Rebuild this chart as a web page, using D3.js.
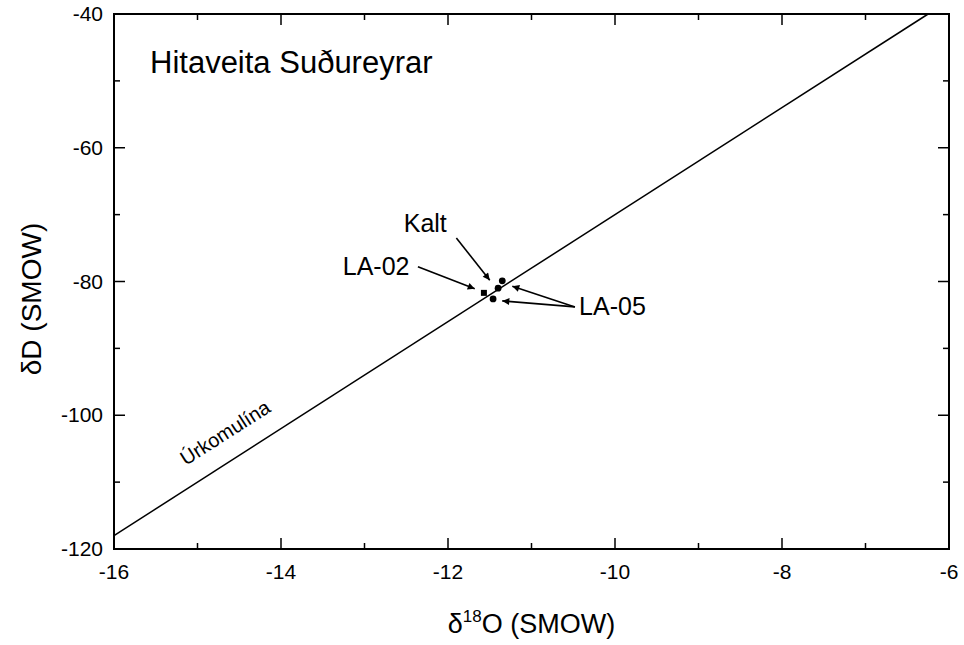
<!DOCTYPE html>
<html><head><meta charset="utf-8">
<script src="https://cdn.jsdelivr.net/npm/d3@7"></script>
<style>body{margin:0;background:#fff}svg{display:block}text{font-family:"Liberation Sans",Arial,sans-serif;fill:#000}</style>
</head><body><svg id="c" width="964" height="645"></svg>
<script>
const xDomain = [-16, -6];
const yDomain = [-120, -40];
const xMajor = [-16, -14, -12, -10, -8, -6];
const xMinor = [-15, -13, -11, -9, -7];
const yMajor = [-120, -100, -80, -60, -40];
const yMinor = [-110, -90, -70, -50];
const lineX = [-16, -6.25];           // meteoric water line dD = 8*d18O + 10
const lineSlope = 8, lineIntercept = 10;
const squarePts = [{x: -11.57, y: -81.7}];
const dotPts = [{x: -11.35, y: -79.9}, {x: -11.40, y: -81.0}, {x: -11.46, y: -82.6}];
const labels = [
  {t: "Kalt", x: -12.53, y: -72.6},
  {t: "LA-02", x: -13.26, y: -79.0},
  {t: "LA-05", x: -10.43, y: -85.0}
];
const arrows = [
  {x1: -11.90, y1: -73.5, x2: -11.50, y2: -79.8},
  {x1: -12.36, y1: -77.8, x2: -11.68, y2: -81.1},
  {x1: -10.48, y1: -83.8, x2: -11.23, y2: -80.7},
  {x1: -10.48, y1: -83.8, x2: -11.35, y2: -82.9}
];

const svg = d3.select("#c");
const L = 114, R = 949, T = 14, B = 549;
const x = d3.scaleLinear().domain(xDomain).range([L, R]);
const y = d3.scaleLinear().domain(yDomain).range([B, T]);

svg.append("defs").append("marker").attr("id","ah").attr("viewBox","0 0 10 10")
  .attr("refX",10).attr("refY",5).attr("markerWidth",13).attr("markerHeight",7)
  .attr("markerUnits","userSpaceOnUse").attr("orient","auto")
  .append("path").attr("d","M0,0L10,5L0,10z").attr("fill","#000");

// frame
svg.append("rect").attr("x",L).attr("y",T).attr("width",R-L).attr("height",B-T)
  .attr("fill","none").attr("stroke","#000").attr("stroke-width",2);

const g = svg.append("g").attr("stroke","#000").attr("stroke-width",1.5);
function ticks(vals, len){
  vals.forEach(v=>{
    g.append("line").attr("x1",x(v)).attr("x2",x(v)).attr("y1",B).attr("y2",B-len);
    g.append("line").attr("x1",x(v)).attr("x2",x(v)).attr("y1",T).attr("y2",T+len);
  });
}
function yticks(vals, len){
  vals.forEach(v=>{
    g.append("line").attr("y1",y(v)).attr("y2",y(v)).attr("x1",L).attr("x2",L+len);
    g.append("line").attr("y1",y(v)).attr("y2",y(v)).attr("x1",R).attr("x2",R-len);
  });
}
ticks(xMajor, 11); ticks(xMinor, 6); yticks(yMajor, 11); yticks(yMinor, 6);

// tick labels
svg.append("g").selectAll("text").data(xMajor).join("text")
  .attr("x",d=>x(d)).attr("y",B+30).attr("text-anchor","middle").attr("font-size",21).text(d=>d);
svg.append("g").selectAll("text").data(yMajor).join("text")
  .attr("x",L-11).attr("y",d=>y(d)+7).attr("text-anchor","end").attr("font-size",21).text(d=>d);

// axis titles
const xt = svg.append("text").attr("x",(L+R)/2).attr("y",633).attr("text-anchor","middle").attr("font-size",27);
xt.append("tspan").text("δ");
xt.append("tspan").attr("font-size",17).attr("dy",-11).text("18");
xt.append("tspan").attr("dy",11).text("O (SMOW)");
svg.append("text").attr("transform",`translate(41,299) rotate(-90)`)
  .attr("text-anchor","middle").attr("font-size",28).text("δD (SMOW)");

// title
svg.append("text").attr("x",150).attr("y",73).attr("font-size",31).text("Hitaveita Suðureyrar");

// meteoric line
svg.append("line").attr("x1",x(lineX[0])).attr("y1",y(lineSlope*lineX[0]+lineIntercept))
  .attr("x2",x(lineX[1])).attr("y2",y(lineSlope*lineX[1]+lineIntercept))
  .attr("stroke","#000").attr("stroke-width",1.5);
const ang = Math.atan2(y(lineSlope*-14+lineIntercept)-y(lineSlope*-15+lineIntercept), x(-14)-x(-15))*180/Math.PI;
svg.append("text").attr("transform",`translate(${x(-15.14)},${y(-107.6)}) rotate(${ang})`)
  .attr("font-size",20).text("Úrkomulína");

// data
svg.selectAll("rect.sq").data(squarePts).join("rect").attr("class","sq")
  .attr("x",d=>x(d.x)-3).attr("y",d=>y(d.y)-3).attr("width",6).attr("height",6).attr("fill","#000");
svg.selectAll("circle.dt").data(dotPts).join("circle").attr("class","dt")
  .attr("cx",d=>x(d.x)).attr("cy",d=>y(d.y)).attr("r",3.4).attr("fill","#000");

// annotations
svg.selectAll("line.ar").data(arrows).join("line").attr("class","ar")
  .attr("x1",d=>x(d.x1)).attr("y1",d=>y(d.y1)).attr("x2",d=>x(d.x2)).attr("y2",d=>y(d.y2))
  .attr("stroke","#000").attr("stroke-width",1.6).attr("marker-end","url(#ah)");
svg.selectAll("text.lb").data(labels).join("text").attr("class","lb")
  .attr("x",d=>x(d.x)).attr("y",d=>y(d.y)).attr("font-size",25).text(d=>d.t);
</script></body></html>
